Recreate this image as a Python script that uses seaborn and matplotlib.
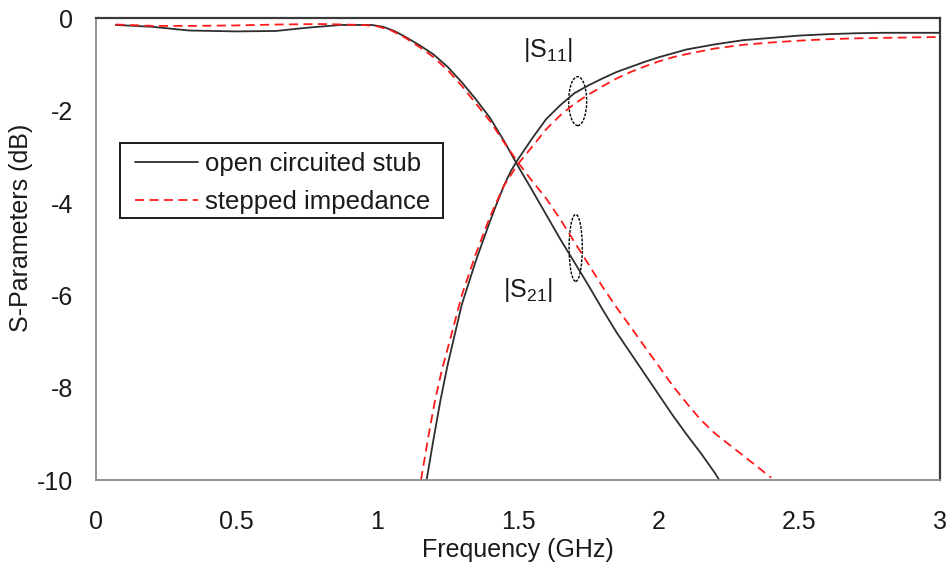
import numpy as np
import pandas as pd
import matplotlib
matplotlib.use("Agg")
import matplotlib.pyplot as plt
from matplotlib.patches import Ellipse, Rectangle
from matplotlib.ticker import FuncFormatter
import seaborn as sns

# |S21| of the open-circuited stub filter (GHz, dB)
s21_open_f = [0.07, 0.20, 0.33, 0.50, 0.64, 0.75, 0.87, 0.98, 1.02, 1.06, 1.10, 1.15, 1.20,
              1.25, 1.30, 1.35, 1.40, 1.45, 1.50, 1.55, 1.60, 1.65, 1.70, 1.75, 1.80,
              1.85, 1.90, 1.95, 2.00, 2.05, 2.10, 2.15, 2.20, 2.215]
s21_open_db = [-0.14, -0.18, -0.26, -0.28, -0.27, -0.20, -0.14, -0.14, -0.18, -0.27, -0.40, -0.58, -0.78,
               -1.05, -1.38, -1.75, -2.15, -2.65, -3.20, -3.72, -4.25, -4.78, -5.28, -5.78, -6.30,
               -6.80, -7.25, -7.70, -8.15, -8.60, -9.02, -9.42, -9.85, -10.0]

# |S21| of the stepped-impedance filter
s21_step_f = [0.07, 0.20, 0.35, 0.50, 0.65, 0.80, 0.95, 1.00, 1.05, 1.10, 1.15, 1.20, 1.25,
              1.30, 1.35, 1.40, 1.45, 1.50, 1.55, 1.60, 1.65, 1.70, 1.75, 1.80, 1.85,
              1.90, 1.95, 2.00, 2.05, 2.10, 2.15, 2.20, 2.25, 2.30, 2.35, 2.40]
s21_step_db = [-0.13, -0.16, -0.16, -0.15, -0.13, -0.12, -0.14, -0.17, -0.26, -0.42, -0.62, -0.84, -1.12,
               -1.46, -1.84, -2.22, -2.68, -3.12, -3.52, -3.90, -4.35, -4.84, -5.32, -5.81, -6.26,
               -6.68, -7.11, -7.53, -7.96, -8.34, -8.70, -8.99, -9.23, -9.47, -9.71, -9.95]

# |S11| of the open-circuited stub filter
s11_open_f = [1.175, 1.20, 1.225, 1.25, 1.275, 1.30, 1.35, 1.40, 1.425, 1.45, 1.475, 1.50, 1.55, 1.60,
              1.65, 1.70, 1.75, 1.80, 1.85, 1.90, 1.95, 2.00, 2.10, 2.20, 2.30, 2.40,
              2.50, 2.60, 2.70, 2.80, 2.90, 3.00]
s11_open_db = [-10.0, -9.10, -8.25, -7.50, -6.85, -6.20, -5.25, -4.40, -4.00, -3.62, -3.30, -3.05, -2.60, -2.18,
               -1.88, -1.62, -1.45, -1.30, -1.16, -1.05, -0.94, -0.84, -0.67, -0.56, -0.47, -0.42,
               -0.37, -0.34, -0.32, -0.31, -0.31, -0.31]

# |S11| of the stepped-impedance filter
s11_step_f = [1.155, 1.18, 1.205, 1.23, 1.258, 1.30, 1.35, 1.40, 1.45, 1.50, 1.55, 1.60,
              1.65, 1.70, 1.75, 1.80, 1.85, 1.90, 1.95, 2.00, 2.05, 2.10, 2.20, 2.30,
              2.40, 2.50, 2.60, 2.70, 2.80, 2.90, 3.00]
s11_step_db = [-10.0, -9.10, -8.27, -7.60, -6.97, -6.00, -5.10, -4.30, -3.62, -3.15, -2.78, -2.40,
               -2.10, -1.85, -1.65, -1.47, -1.30, -1.16, -1.04, -0.93, -0.84, -0.77, -0.65, -0.57,
               -0.52, -0.48, -0.45, -0.43, -0.42, -0.41, -0.40]

legend_labels = ["open circuited stub", "stepped impedance"]
x_ticks = [0, 0.5, 1, 1.5, 2, 2.5, 3]
y_ticks = [0, -2, -4, -6, -8, -10]

sns.set_style("white")
plt.rcParams["font.family"] = ["Liberation Sans", "DejaVu Sans"]
plt.rcParams["mathtext.default"] = "regular"
plt.rcParams["axes.unicode_minus"] = False

TXT = "#1a1a1a"
BLACK = "#2e2e2e"
RED = "#ff1a1a"
FS = 18
LEG_FS = 18.5

fig = plt.figure(figsize=(9.48, 5.69), dpi=100)
ax = fig.add_axes([0.1013, 0.1564, 0.8903, 0.8111])

curves = [
    (s21_open_f, s21_open_db, BLACK, "-", legend_labels[0]),
    (s21_step_f, s21_step_db, RED, (0, (5, 3)), legend_labels[1]),
    (s11_open_f, s11_open_db, BLACK, "-", None),
    (s11_step_f, s11_step_db, RED, (0, (5, 3)), None),
]
handles = {}
for f, db, col, ls, lab in curves:
    df = pd.DataFrame({"f": f, "dB": db})
    sns.lineplot(data=df, x="f", y="dB", ax=ax, color=col, linewidth=1.3,
                 estimator=None, sort=False, legend=False)
    line = ax.lines[-1]
    line.set_linestyle(ls)
    if lab:
        handles[lab] = line

ax.set_xlim(0, 3)
ax.set_ylim(-10, 0)
ax.set_xticks(x_ticks)
ax.set_yticks(y_ticks)
ax.xaxis.set_major_formatter(FuncFormatter(lambda v, p: f"{v:g}"))
ax.yaxis.set_major_formatter(FuncFormatter(lambda v, p: f"{v:g}"))

for side in ["left", "bottom"]:
    ax.spines[side].set_color("#8a8a8a")
    ax.spines[side].set_linewidth(1.3)
for side in ["top", "right"]:
    ax.spines[side].set_color("#3a3a3a")
    ax.spines[side].set_linewidth(1.6)
    ax.spines[side].set_visible(True)

ax.tick_params(axis="both", direction="out", length=6.5, width=1.2, color="#8a8a8a",
               labelsize=FS, labelcolor=TXT)
ax.tick_params(axis="y", pad=10)
ax.tick_params(axis="x", pad=15)
ax.set_xlabel("Frequency (GHz)", fontsize=FS, color=TXT)
ax.set_ylabel("S-Parameters (dB)", fontsize=FS, color=TXT)
ax.xaxis.set_label_coords(0.5, -0.125)
ax.yaxis.set_label_coords(-0.075, 0.546)

# group markers around each pair of curves
for cx, cy, w, h in [(1.712, -1.79, 0.064, 1.06), (1.705, -4.97, 0.047, 1.45)]:
    ax.add_patch(Ellipse((cx, cy), w, h, fill=False, edgecolor="black",
                         linewidth=1.0, linestyle=(0, (2, 1))))

ax.text(1.607, -0.68, "|S$_{11}$|", fontsize=FS, color=TXT, ha="center", va="center")
ax.text(1.536, -5.88, "|S$_{21}$|", fontsize=FS, color=TXT, ha="center", va="center")

# legend: entries without their own frame, boxed by a plain rectangle
leg = ax.legend([handles[l] for l in legend_labels], legend_labels,
                loc="upper left", bbox_to_anchor=(0.0462, 0.711), fontsize=LEG_FS,
                frameon=False, handlelength=2.45, handletextpad=0.27,
                labelspacing=0.56, borderpad=0, borderaxespad=0)
for t in leg.get_texts():
    t.set_color(TXT)
ax.add_patch(Rectangle((0.0284, 0.5677), 0.3827, 0.1625, transform=ax.transAxes,
                       fill=True, facecolor="white", edgecolor="#1a1a1a",
                       linewidth=1.4, zorder=4))
leg.set_zorder(5)

fig.savefig("out.png", dpi=100)
